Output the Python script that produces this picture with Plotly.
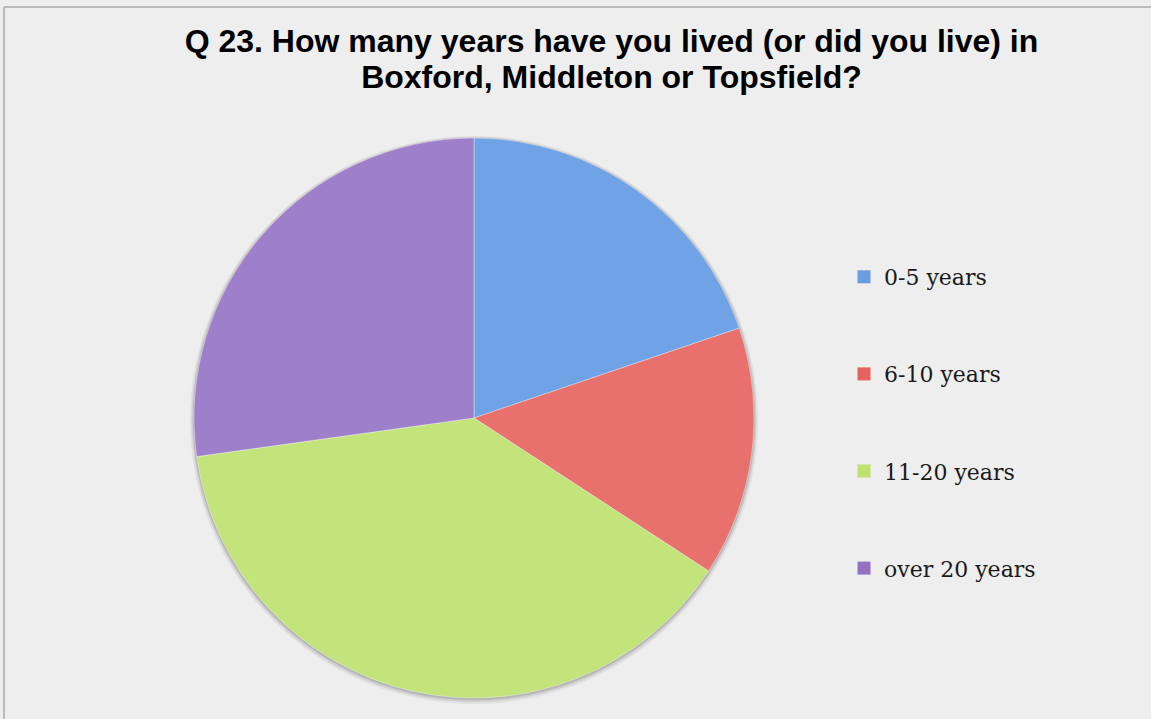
import plotly.graph_objects as go

# Survey answers (share of respondents, %)
categories = ["0-5 years", "6-10 years", "11-20 years", "over 20 years"]
shares = [19.8, 14.4, 38.6, 27.2]
slice_colors = ["#70A3E6", "#E9716D", "#C3E47A", "#9E80CA"]
legend_colors = ["#6A9DE2", "#E5625E", "#BDE06E", "#9372C3"]

title_lines = [
    "Q 23. How many years have you lived (or did you live) in",
    "Boxford, Middleton or Topsfield?",
]

W, H = 1151, 719
BG = "#EEEEEE"

# pie placement in pixels
cx, cy, r = 474, 418, 280


def px_x(v):
    return v / W


def px_y(v):
    return 1 - v / H


fig = go.Figure()

fig.add_trace(
    go.Pie(
        labels=categories,
        values=shares,
        sort=False,
        direction="clockwise",
        rotation=0,
        marker=dict(colors=slice_colors, line=dict(color="rgba(255,255,255,0.35)", width=1)),
        textinfo="none",
        hoverinfo="label+percent",
        showlegend=False,
        domain=dict(x=[px_x(cx - r), px_x(cx + r)], y=[px_y(cy + r), px_y(cy - r)]),
    )
)

# legend entries, one group each so the gap between them can be widened
for name, col in zip(categories, legend_colors):
    fig.add_trace(
        go.Scatter(
            x=[None],
            y=[None],
            mode="markers",
            name=name,
            legendgroup=name,
            marker=dict(symbol="square", size=13, color=col, line=dict(width=0)),
            hoverinfo="skip",
        )
    )

# soft shadow ring behind the pie
shadow = []
for extra, alpha, dy in [(4, 0.05, 2), (2.5, 0.08, 1.5), (1.2, 0.12, 1)]:
    shadow.append(
        dict(
            type="circle",
            xref="paper",
            yref="paper",
            x0=px_x(cx - r - extra),
            x1=px_x(cx + r + extra),
            y0=px_y(cy + dy + r + extra),
            y1=px_y(cy + dy - r - extra),
            fillcolor=f"rgba(0,0,0,{alpha})",
            line=dict(width=0),
            layer="below",
        )
    )

# chart frame (top and left edges)
frame = [
    dict(type="line", xref="paper", yref="paper", x0=px_x(4), x1=1, y0=px_y(7), y1=px_y(7),
         line=dict(color="#BBBBBB", width=2)),
    dict(type="line", xref="paper", yref="paper", x0=px_x(4), x1=px_x(4), y0=0, y1=px_y(7),
         line=dict(color="#BBBBBB", width=2)),
]

# glyphs drawn a little larger than the base size, which sets the line spacing
title_html = "<br>".join(f'<span style="font-size:32px">{t}</span>' for t in title_lines)

fig.update_layout(
    width=W,
    height=H,
    margin=dict(l=0, r=0, t=0, b=0),
    paper_bgcolor=BG,
    plot_bgcolor=BG,
    xaxis=dict(visible=False),
    yaxis=dict(visible=False),
    title=dict(
        text=title_html,
        x=px_x(611.5),
        xanchor="center",
        xref="paper",
        y=px_y(52),
        yref="container",
        yanchor="top",
        font=dict(family="Liberation Sans, Arial, sans-serif", size=28, color="#000000", weight="bold"),
    ),
    legend=dict(
        x=px_x(844),
        xanchor="left",
        y=px_y(256),
        yanchor="top",
        bgcolor="rgba(0,0,0,0)",
        borderwidth=0,
        tracegroupgap=65.5,
        font=dict(family="DejaVu Serif, serif", size=22, color="#1A1A1A"),
    ),
    shapes=shadow + frame,
    showlegend=True,
)

fig.write_html("out.html")
